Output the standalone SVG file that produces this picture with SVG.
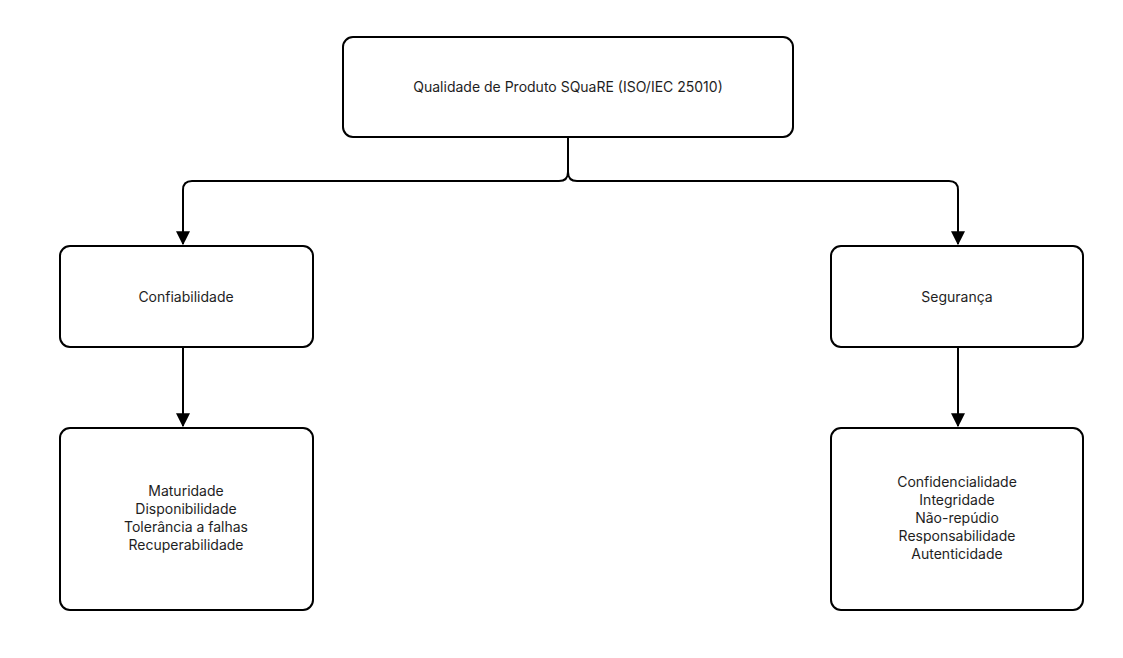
<svg xmlns="http://www.w3.org/2000/svg" width="1123" height="658" viewBox="0 0 1123 658">
<style>
.box{fill:#fff;stroke:#000;stroke-width:2}
.t{font-family:Inter,"Liberation Sans",sans-serif;font-size:14px;fill:#1e1e1e;text-anchor:middle}
.c{fill:none;stroke:#000;stroke-width:2}
</style>
<defs><marker id="a" viewBox="0 0 10 10" refX="9" refY="5" markerWidth="8" markerHeight="8" markerUnits="userSpaceOnUse" orient="auto"><path d="M0,0L10,5L0,10z" fill="#000"/></marker>
<marker id="ah" viewBox="0 0 12 12" refX="11" refY="6" markerWidth="14" markerHeight="14" markerUnits="userSpaceOnUse" orient="auto"><path d="M0,0L12,6L0,12z" fill="#000"/></marker></defs>
<rect width="1123" height="658" fill="#fff"/>
<g id="connectors">
<path class="c" d="M568,137V172Q568,181 559,181H192Q183,181 183,190V244" marker-end="url(#ah)"/>
<path class="c" d="M568,172Q568,181 577,181H949Q958,181 958,190V244" marker-end="url(#ah)"/>
<path class="c" d="M183,347V426" marker-end="url(#ah)"/>
<path class="c" d="M958,347V426" marker-end="url(#ah)"/>
</g>
<g id="root"><rect class="box" x="343" y="37" width="450" height="100" rx="10"/><text class="t" x="568" y="92">Qualidade de Produto SQuaRE (ISO/IEC 25010)</text></g>
<g id="conf"><rect class="box" x="60" y="246" width="253" height="101" rx="10"/><text class="t" x="186" y="302">Confiabilidade</text></g>
<g id="seg"><rect class="box" x="831" y="246" width="252" height="101" rx="10"/><text class="t" x="957" y="302">Segurança</text></g>
<g id="conf-sub"><rect class="box" x="60" y="428" width="253" height="182" rx="10"/><text class="t" x="186" y="496">Maturidade<tspan x="186" dy="18">Disponibilidade</tspan><tspan x="186" dy="18">Tolerância a falhas</tspan><tspan x="186" dy="18">Recuperabilidade</tspan></text></g>
<g id="seg-sub"><rect class="box" x="831" y="428" width="252" height="182" rx="10"/><text class="t" x="957" y="487">Confidencialidade<tspan x="957" dy="18">Integridade</tspan><tspan x="957" dy="18">Não-repúdio</tspan><tspan x="957" dy="18">Responsabilidade</tspan><tspan x="957" dy="18">Autenticidade</tspan></text></g>
</svg>
